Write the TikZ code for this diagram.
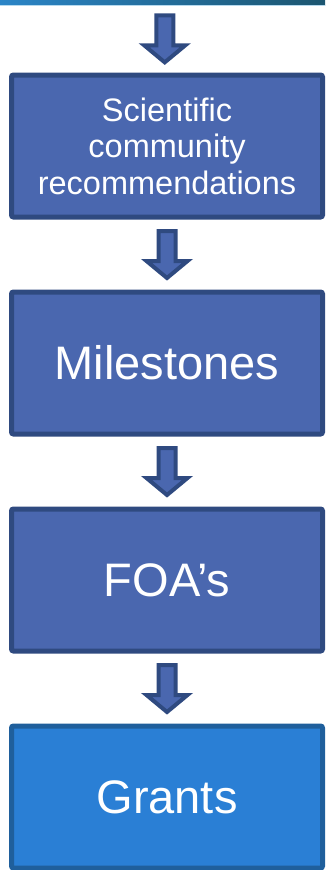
\documentclass[tikz,border=0pt]{standalone}
\usepackage{fontspec}
\setmainfont{Liberation Sans}
\usetikzlibrary{positioning,calc}

\definecolor{boxfill}{HTML}{4A67AF}
\definecolor{boxline}{HTML}{2F4A80}
\definecolor{grantfill}{HTML}{2A7FD5}
\definecolor{grantline}{HTML}{1F5F9C}
\definecolor{barleft}{HTML}{2B85C7}
\definecolor{barright}{HTML}{1C5670}
\definecolor{barglow}{HTML}{B5D9EE}

\begin{document}
\begin{tikzpicture}[x=1pt, y=-1pt,
  stepbox/.style={draw=boxline, fill=boxfill, line width=5pt, rounded corners=2pt,
    minimum width=311pt, minimum height=142pt, inner sep=0pt, align=center,
    text=white, font=\fontsize{47}{53}\selectfont},
  grantbox/.style={stepbox, draw=grantline, fill=grantfill},
  blockarrow/.style={draw=boxline, fill=boxfill, line width=4pt, line join=miter}]

\newcommand\GAP{70pt}
\newcommand\flowarrow[2]{%
  \draw[blockarrow] ($(#1.south)!0.5!(#2.north)$) ++(-8.5,-23.5) -- ++(17,0) -- ++(0,30)
    -- ++(12,0) -- ++(-20.5,17) -- ++(-20.5,-17) -- ++(12,0) -- cycle;}

\useasboundingbox (0,0) rectangle (325,870);

%% banner strip along the top
\node[minimum width=325pt, minimum height=5pt, inner sep=0pt,
  left color=barleft, right color=barright] (topbar) at (162.5,2.5) {};
\draw[barglow, line width=1pt] (topbar.south west) -- (topbar.south east);

%% steps
\node[stepbox, font=\fontsize{32.5}{36.5}\selectfont] (science) at (167,146)
  {Scientific\\community\\recommendations};
\node[stepbox, below=\GAP of science] (milestones) {Milestones};
\node[stepbox, below=\GAP of milestones] (foas) {FOA’s};
\node[grantbox, below=\GAP of foas] (grants) {Grants};

%% arrows
\flowarrow{topbar}{science}
\flowarrow{science}{milestones}
\flowarrow{milestones}{foas}
\flowarrow{foas}{grants}

\end{tikzpicture}
\end{document}
